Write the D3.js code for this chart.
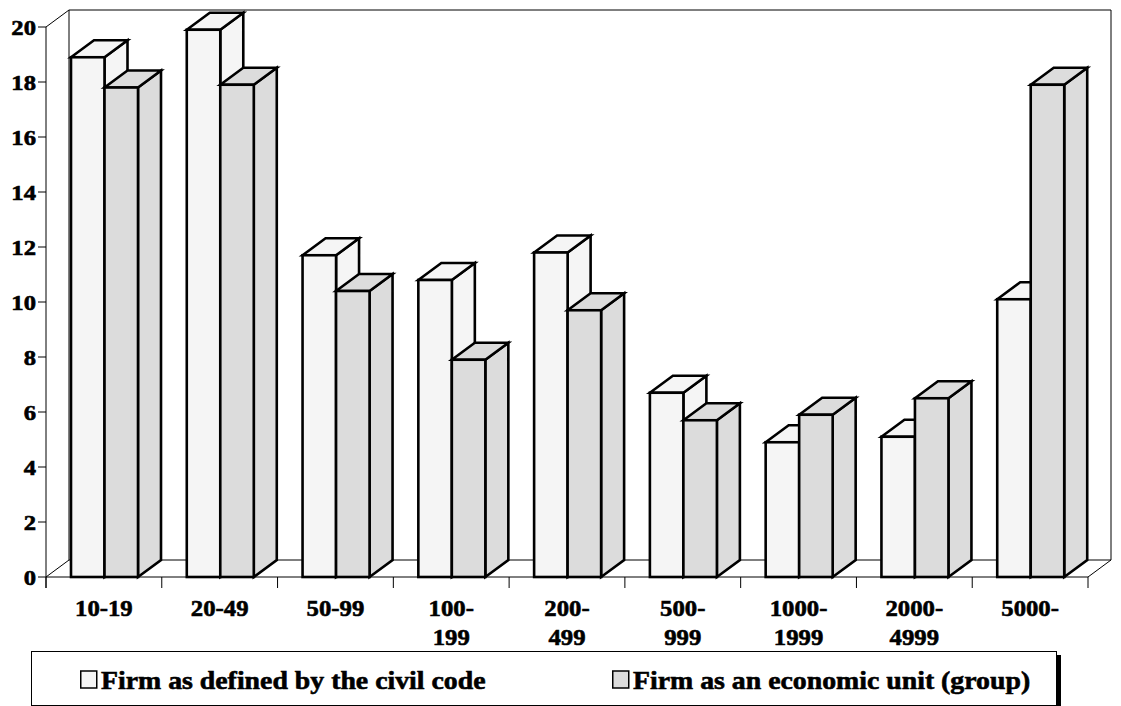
<!DOCTYPE html>
<html>
<head>
<meta charset="utf-8">
<script src="https://cdn.jsdelivr.net/npm/d3@7"></script>
<style>
  html, body { margin: 0; padding: 0; background: #fff; }
  svg { display: block; }
  svg text { font-family: 'Liberation Serif', 'Times New Roman', Times, serif; font-weight: 700; fill: #000; stroke: #000; stroke-width: 0.6px; }
</style>
</head>
<body>
<svg id="chart" width="1121" height="706"></svg>
<script>
// Firm-size classes (number of employees)
const categories = ["10-19", "20-49", "50-99", "100-199", "200-499", "500-999", "1000-1999", "2000-4999", "5000-"];
// Tick labels shown under each class (two lines where wrapped)
const categoryLabels = [["10-19"], ["20-49"], ["50-99"], ["100-", "199"], ["200-", "499"], ["500-", "999"], ["1000-", "1999"], ["2000-", "4999"], ["5000-"]];
const seriesNames = ["Firm as defined by the civil code", "Firm as an economic unit (group)"];
const civilCode = [18.9, 19.9, 11.7, 10.8, 11.8, 6.7, 4.9, 5.1, 10.1];
const economicUnit = [17.8, 17.9, 10.4, 7.9, 9.7, 5.7, 5.9, 6.5, 17.9];
const yTicks = [0, 2, 4, 6, 8, 10, 12, 14, 16, 18, 20];
const seriesFills = ["#f5f5f5", "#dcdcdc"];

const FONT = "'Liberation Serif', 'Times New Roman', serif";
const svg = d3.select("#chart");

// Plot geometry with an oblique depth offset
const x0 = 46, x1 = 1088, yBase = 577, yTop = 27;
const depthX = 23, depthY = 17;

const x = d3.scaleBand().domain(categories).range([x0, x1]).padding(0);
const xs = d3.scaleBand().domain([0, 1]).range([25, 92]).padding(0);
const y = d3.scaleLinear().domain([0, 20]).range([yBase, yTop]);

const thin = { stroke: "#000", "stroke-width": 1, fill: "none" };
function line(pts, attrs) {
  const p = svg.append("path").attr("d", d3.line()(pts));
  Object.entries(attrs || thin).forEach(([k, v]) => p.attr(k, v));
  return p;
}

// Back wall, left wall and floor outlines
const bx0 = x0 + depthX, bx1 = x1 + depthX, byTop = yTop - depthY, byBase = yBase - depthY;
line([[x0, yTop], [bx0, byTop], [bx1, byTop], [bx1, byBase]]);
line([[bx0, byTop], [bx0, byBase], [bx1, byBase]]);
line([[x0, yBase], [bx0, byBase]]);
line([[x1, yBase], [bx1, byBase]]);
// Front floor edge and value axis
line([[x0, yBase], [x1, yBase]]);
line([[x0, yTop], [x0, yBase + 11]]);

// Value axis ticks and labels
const yAxis = svg.append("g");
yTicks.forEach(t => {
  const ty = y(t);
  yAxis.append("line").attr("x1", x0 - 8).attr("x2", x0).attr("y1", ty).attr("y2", ty)
    .attr("stroke", "#000").attr("stroke-width", 1);
  yAxis.append("text").attr("text-anchor", "end").attr("font-family", FONT)
    .attr("transform", `translate(${x0 - 10},${ty + 7.5}) scale(1.12,1)`)
    .style("font-size", "22px").text(t);
});

// Category ticks below the floor edge
const boundaries = categories.map(c => x(c)).concat([x1]);
boundaries.forEach(bx => {
  line([[bx, yBase], [bx, yBase + 11]]);
});

// Category labels
categories.forEach((c, i) => {
  const cx = x(c) + x.bandwidth() / 2;
  categoryLabels[i].forEach((ln, j) => {
    svg.append("text").attr("text-anchor", "middle").attr("font-family", FONT)
      .attr("transform", `translate(${cx},${616 + j * 29}) scale(1.03,1)`)
      .style("font-size", "24px").text(ln);
  });
});

// 3D bars: front face, top and right side
const bars = svg.append("g").attr("stroke", "#000").attr("stroke-width", 2.6).attr("stroke-linejoin", "miter");
const seriesData = [civilCode, economicUnit];
categories.forEach((c, i) => {
  [0, 1].forEach(s => {
    const v = seriesData[s][i];
    const left = x(c) + xs(s), right = left + xs.bandwidth();
    const top = y(v), bottom = y(0);
    const g = bars.append("g").attr("fill", seriesFills[s]);
    g.append("path").attr("d", d3.line()([[right, top], [right + depthX, top - depthY], [right + depthX, bottom - depthY], [right, bottom]]) + "Z");
    g.append("path").attr("d", d3.line()([[left, top], [left + depthX, top - depthY], [right + depthX, top - depthY], [right, top]]) + "Z");
    g.append("rect").attr("x", left).attr("y", top).attr("width", right - left).attr("height", bottom - top);
  });
});

// Legend box with drop shadow
const legend = svg.append("g");
legend.append("rect").attr("x", 1056).attr("y", 655).attr("width", 5).attr("height", 60).attr("fill", "#000");
legend.append("rect").attr("x", 31.5).attr("y", 651.5).attr("width", 1025).attr("height", 54)
  .attr("fill", "#fff").attr("stroke", "#000").attr("stroke-width", 1);
const legendX = [80, 612];
seriesNames.forEach((name, s) => {
  legend.append("rect").attr("x", legendX[s] + 0.75).attr("y", 671).attr("width", 16).attr("height", 17)
    .attr("fill", seriesFills[s]).attr("stroke", "#000").attr("stroke-width", 1.5);
  legend.append("text").attr("font-family", FONT)
    .attr("transform", `translate(${legendX[s] + 21},${689}) scale(1.07,1)`)
    .style("font-size", "26px").text(name);
});
</script>
</body>
</html>
